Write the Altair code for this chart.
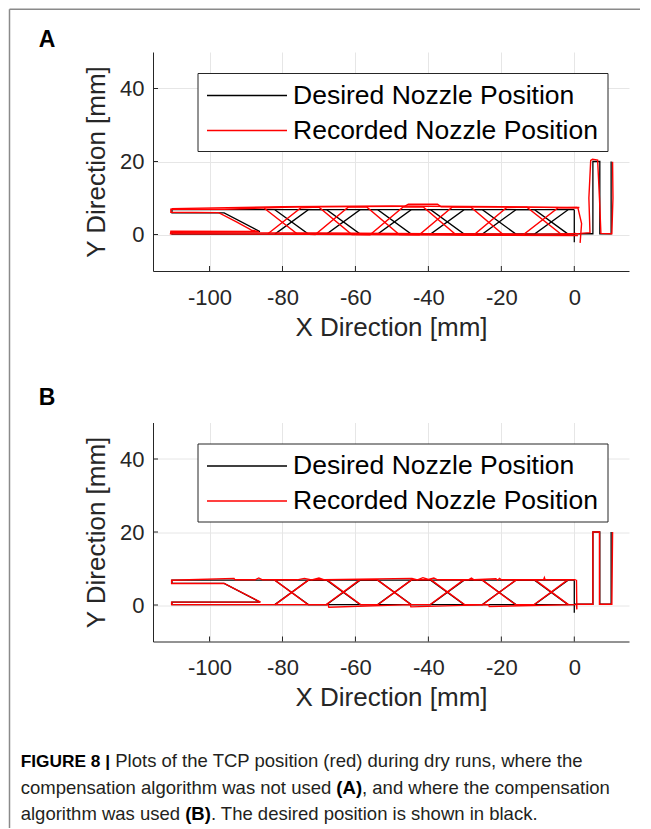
import altair as alt
import pandas as pd

# ---------------- data ----------------
SERIES = ["Desired Nozzle Position", "Recorded Nozzle Position"]
X_TICKS = [-100, -80, -60, -40, -20, 0]
Y_TICKS = [0, 20, 40]
PANEL_LABELS = ["A", "B"]
X_TITLE = "X Direction [mm]"
Y_TITLE = "Y Direction [mm]"

# caption: list of lines, each a list of (text, bold) segments
CAPTION = [
    [("FIGURE 8 |", True), (" Plots of the TCP position (red) during dry runs, where the", False)],
    [("compensation algorithm was not used ", False), ("(A)", True), (", and where the compensation", False)],
    [("algorithm was used ", False), ("(B)", True), (". The desired position is shown in black.", False)],
]

# desired path (black) - same in both panels
DES_OUTER_X = [0.0, -110.3, -110.3, -96.0, -86.2, -110.3, -110.3, 0.0]
DES_OUTER_Y = [6.8, 6.8, 5.9, 5.9, 0.8, 0.8, 0.1, 0.1]
DES_ZIG1_X = [-82.1, -72.9, -67.9, -58.7, -53.9, -44.7, -39.4, -30.2, -25.2, -16.0, -10.9, -1.7]
DES_ZIG1_Y = [0.1, 6.8, 6.8, 0.1, 0.1, 6.8, 6.8, 0.1, 0.1, 6.8, 6.8, 0.1]
DES_ZIG2_X = [-82.1, -72.9, -67.9, -58.7, -53.9, -44.7, -39.4, -30.2, -25.2, -16.0, -10.9, -1.7]
DES_ZIG2_Y = [6.8, 0.1, 0.1, 6.8, 6.8, 0.1, 0.1, 6.8, 6.8, 0.1, 0.1, 6.8]
DES_END_X = [0.0, 0.0, 0.0, 5.1, 5.1, 7.0, 7.0, 10.1, 10.1]
DES_END_Y = [6.8, -2.1, 0.2, 0.2, 20.0, 20.0, 0.2, 0.2, 20.0]

# recorded path, panel A (no compensation)
RA_OUTER_X = [1.4, -12.0, -36.5, -37.5, -45.5, -46.5, -75.0, -96.0, -110.6, -110.6, -97.5,
              -92.5, -88.5, -86.5, -110.6, -110.7, -60.0, -25.0, 1.0]
RA_OUTER_Y = [7.4, 7.5, 7.6, 8.3, 8.3, 7.7, 7.6, 6.9, 6.9, 6.1, 6.0, 3.4, 1.2, 0.8, 0.9,
              0.2, 0.0, -0.2, -0.3]
RA_PASS2_X = [-110.4, -80.0, -50.0, -20.0, 1.0, 2.0, 1.6]
RA_PASS2_Y = [7.1, 7.6, 7.8, 7.6, 7.3, 3.0, -2.3]
RA_PASS3_X = [-110.5, -70.0, -40.0, -10.0, 1.5]
RA_PASS3_Y = [0.5, 0.4, 0.2, 0.1, 0.2]
RA_ZIG1_X = [-84.0, -75.0, -70.0, -61.0, -56.0, -47.0, -41.5, -32.5, -27.5, -18.5, -13.0, -3.5, 0.5]
RA_ZIG1_Y = [0.2, 7.3, 7.5, 0.0, -0.1, 7.5, 7.6, 0.0, -0.1, 7.4, 7.5, 0.0, 0.3]
RA_ZIG2_X = [-85.0, -76.0, -71.0, -62.0, -57.0, -48.0, -42.5, -33.5, -28.5, -19.5, -14.0, -4.5, 0.8]
RA_ZIG2_Y = [7.2, 0.2, 0.0, 7.5, 7.6, 0.0, -0.1, 7.5, 7.6, 0.0, -0.1, 7.3, 7.4]
RA_END_X = [1.7, 4.3, 4.0, 4.5, 5.0, 6.4, 6.9, 7.3, 10.3, 10.6, 10.5]
RA_END_Y = [0.3, 0.5, 10.0, 20.3, 20.6, 20.4, 10.0, 0.3, 0.2, 10.0, 19.9]

# recorded path, panel B (with compensation)
RB_OUTER_X = [0.4, -8.0, -8.2, -8.4, -20.0, -20.5, -21.0, -21.5, -27.5, -28.2, -29.0, -37.5,
              -38.5, -40.0, -41.5, -43.0, -44.5, -68.5, -70.0, -72.0, -74.0, -76.0, -85.5,
              -86.5, -87.5, -93.0, -93.3, -110.4, -110.4, -96.0, -86.0, -110.4, -110.4,
              -67.5, -67.3, -45.0, -44.8, -23.5, -23.3, 0.4]
RB_OUTER_Y = [6.9, 6.9, 7.5, 6.9, 6.9, 7.3, 6.8, 7.2, 6.9, 7.4, 6.9, 6.9, 7.4, 7.0, 7.5, 6.9,
              7.3, 6.9, 7.4, 6.9, 7.3, 6.9, 6.9, 7.4, 6.9, 6.9, 7.3, 6.8, 5.9, 5.9, 0.8,
              0.8, 0.1, 0.1, -0.6, 0.1, -0.5, 0.1, -0.4, 0.1]
RB_ZIG1_X = [-82.0, -72.8, -67.8, -58.6, -53.8, -44.6, -39.3, -30.1, -25.1, -15.9, -10.8, -1.6]
RB_ZIG1_Y = [0.1, 6.9, 6.9, 0.1, 0.1, 6.9, 6.9, 0.1, 0.1, 6.9, 6.9, 0.1]
RB_ZIG2_X = [-82.2, -73.0, -68.0, -58.8, -54.0, -44.8, -39.5, -30.3, -25.3, -16.1, -11.0, -1.8]
RB_ZIG2_Y = [6.9, 0.1, 0.1, 6.9, 6.9, 0.1, 0.1, 6.9, 6.9, 0.1, 0.1, 6.9]
RB_END_X = [0.6, 0.7, 0.6, 5.1, 5.1, 6.9, 6.9, 10.3, 10.5]
RB_END_Y = [6.9, -1.2, 0.2, 0.2, 20.0, 20.0, 0.2, 0.2, 20.0]

DESIRED = [(DES_OUTER_X, DES_OUTER_Y), (DES_ZIG1_X, DES_ZIG1_Y),
           (DES_ZIG2_X, DES_ZIG2_Y), (DES_END_X, DES_END_Y)]
RECORDED_A = [(RA_OUTER_X, RA_OUTER_Y), (RA_PASS2_X, RA_PASS2_Y), (RA_PASS3_X, RA_PASS3_Y),
              (RA_ZIG1_X, RA_ZIG1_Y), (RA_ZIG2_X, RA_ZIG2_Y), (RA_END_X, RA_END_Y)]
RECORDED_B = [(RB_OUTER_X, RB_OUTER_Y), (RB_ZIG1_X, RB_ZIG1_Y),
              (RB_ZIG2_X, RB_ZIG2_Y), (RB_END_X, RB_END_Y)]


def path_df(pieces, tag):
    rows = []
    for k, (xs, ys) in enumerate(pieces):
        for i, (x, y) in enumerate(zip(xs, ys)):
            rows.append({"x": x, "y": y, "path": f"{tag}{k}", "ord": i})
    return pd.DataFrame(rows)


# ---------------- style ----------------
W, H = 476, 219
FONT = "Liberation Sans"
AX = "#262626"
GRID = "#e6e6e6"
FRAME = "#8a8a8a"
XSCALE = alt.Scale(domain=[-115.5, 15], nice=False, zero=False)
YSCALE = alt.Scale(domain=[-10, 50], nice=False, zero=False)
ONE = pd.DataFrame({"k": [0]})

x_axis = alt.Axis(values=X_TICKS, title=X_TITLE, grid=True, gridColor=GRID, gridWidth=1,
                  domainColor=AX, domainWidth=1, ticks=False, labelFont=FONT,
                  labelFontSize=22, labelColor=AX, labelPadding=16, labelExpr="'' + datum.value",
                  titleFont=FONT, titleFontSize=26, titleFontWeight="normal", titleColor=AX,
                  titlePadding=6, labelFlush=False, labelOverlap=False)
y_axis = alt.Axis(values=Y_TICKS, title=Y_TITLE, grid=True, gridColor=GRID, gridWidth=1,
                  domainColor=AX, domainWidth=1, ticks=False, labelFont=FONT,
                  labelFontSize=22, labelColor=AX, labelPadding=9, labelExpr="'' + datum.value",
                  titleFont=FONT, titleFontSize=26, titleFontWeight="normal", titleColor=AX,
                  titlePadding=10, labelFlush=False, labelOverlap=False)

XENC = alt.X("x:Q", scale=XSCALE, axis=x_axis)
YENC = alt.Y("y:Q", scale=YSCALE, axis=y_axis)

# Arial / Liberation Sans advance widths (per 1000 em) used to flow caption segments
REG_W = {" ": 278, "a": 556, "b": 556, "c": 500, "d": 556, "e": 556, "f": 278, "g": 556,
         "h": 556, "i": 222, "k": 500, "l": 222, "m": 833, "n": 556, "o": 556, "p": 556,
         "r": 333, "s": 500, "t": 278, "u": 556, "v": 500, "w": 722, "y": 500, "z": 500,
         "P": 667, "T": 611, "C": 722, "(": 333, ")": 333, ",": 278, ".": 278}
BOLD_W = {" ": 278, "F": 611, "I": 278, "G": 778, "U": 722, "R": 722, "E": 667, "8": 556,
          "|": 280, "(": 333, ")": 333, "A": 722, "B": 722}


def text_w(txt, bold, size):
    tbl = BOLD_W if bold else REG_W
    return sum(tbl.get(c, 556) for c in txt) * size / 1000.0


def text_mark(txt, x, y, size, bold=False, color="#231f20"):
    kw = dict(text=txt, align="left", baseline="alphabetic", font=FONT, fontSize=size,
              fontWeight="bold" if bold else "normal", color=color)
    return alt.Chart(ONE).mark_text(**kw).encode(x=alt.value(x), y=alt.value(y))


def panel(recorded, label, extras):
    black = alt.Chart(path_df(DESIRED, "d")).mark_line(color="black", strokeWidth=1.3).encode(
        x=XENC, y=YENC, detail="path:N", order="ord:Q")
    red = alt.Chart(path_df(recorded, "r")).mark_line(color="#ff0000", strokeWidth=1.4).encode(
        x=XENC, y=YENC, detail="path:N", order="ord:Q")
    xt = alt.Chart(pd.DataFrame({"x": X_TICKS})).mark_rule(color=AX, strokeWidth=1).encode(
        x=XENC, y=alt.value(H), y2=alt.value(H - 5))
    yt = alt.Chart(pd.DataFrame({"y": Y_TICKS})).mark_rule(color=AX, strokeWidth=1).encode(
        y=YENC, x=alt.value(0), x2=alt.value(5))
    box = alt.Chart(ONE).mark_rect(fill="white", stroke=AX, strokeWidth=1).encode(
        x=alt.value(45), x2=alt.value(455), y=alt.value(21.5), y2=alt.value(99.5))
    s1 = alt.Chart(ONE).mark_rule(color="black", strokeWidth=1.5).encode(
        x=alt.value(54), x2=alt.value(134), y=alt.value(43.5))
    s2 = alt.Chart(ONE).mark_rule(color="#ff0000", strokeWidth=1.5).encode(
        x=alt.value(54), x2=alt.value(134), y=alt.value(78.5))
    t1 = alt.Chart(ONE).mark_text(text=SERIES[0], align="left", baseline="middle", font=FONT,
                                  fontSize=26.5, color="black").encode(x=alt.value(140), y=alt.value(43.5))
    t2 = alt.Chart(ONE).mark_text(text=SERIES[1], align="left", baseline="middle", font=FONT,
                                  fontSize=26.5, color="black").encode(x=alt.value(140), y=alt.value(78.5))
    lab = text_mark(label, -114.3, -5.5 if label == "A" else -18, 23, bold=True, color="black")
    return alt.layer(black, red, xt, yt, box, s1, s2, t1, t2, lab, *extras).properties(
        width=W, height=H)


frame_top = alt.Chart(ONE).mark_rule(color=FRAME, strokeWidth=1.5).encode(
    x=alt.value(-143.5), x2=alt.value(487), y=alt.value(-42.75))
frame_left = alt.Chart(ONE).mark_rule(color=FRAME, strokeWidth=1.5).encode(
    x=alt.value(-143.5), y=alt.value(-42.75), y2=alt.value(776))

# caption, flowed segment by segment (positions relative to panel B's plot area)
CAP_SIZE = 18.5
CAP_BOLD_FIRST = 17.3
CAP_X0 = -132.3
CAP_BASE = [344, 371, 397]
caption = []
for li, (line, base) in enumerate(zip(CAPTION, CAP_BASE)):
    cx = CAP_X0
    for si, (txt, bold) in enumerate(line):
        size = CAP_BOLD_FIRST if (li == 0 and si == 0) else CAP_SIZE
        lead = len(txt) - len(txt.lstrip(" "))
        cx += text_w(" " * lead, bold, size)
        body = txt.strip(" ")
        caption.append(text_mark(body, cx, base, size, bold=bold,
                                 color="black" if bold else "#231f20"))
        cx += text_w(txt.lstrip(" "), bold, size)

pA = panel(RECORDED_A, PANEL_LABELS[0], [frame_top, frame_left])
pB = panel(RECORDED_B, PANEL_LABELS[1], caption)

chart = alt.vconcat(pA, pB, spacing=151.5, bounds="flush").properties(
    padding={"left": 0, "top": 0, "right": 0, "bottom": 0}, background="white"
).configure_view(stroke=None)

chart.save("out.html", embed_options={"renderer": "svg", "actions": False})
